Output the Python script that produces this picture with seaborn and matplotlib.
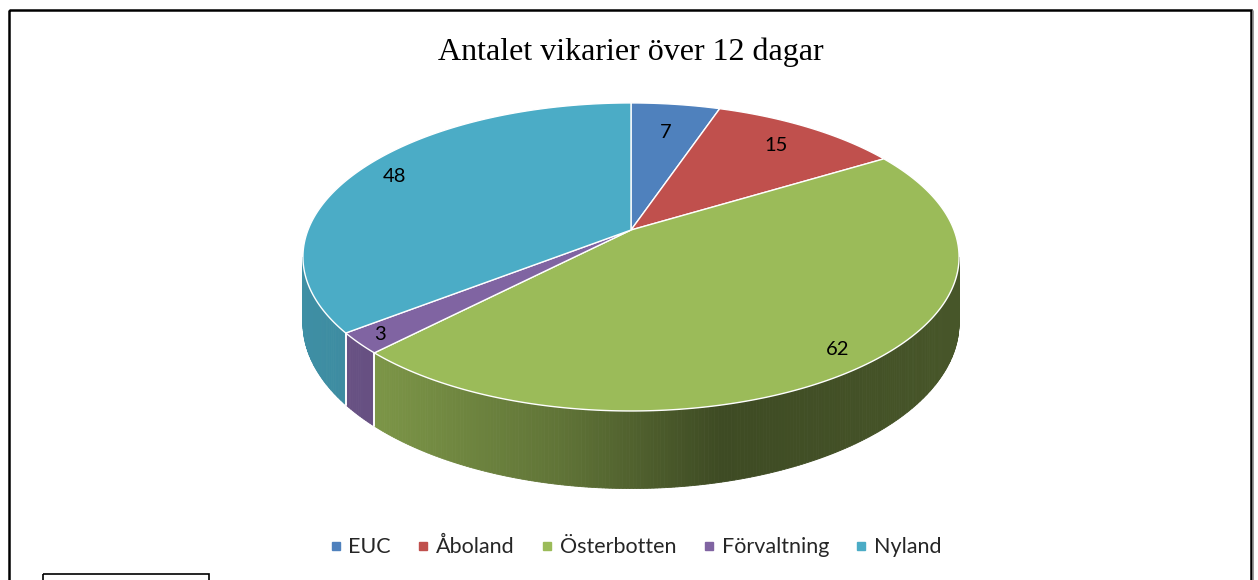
import numpy as np
import seaborn as sns
import matplotlib.pyplot as plt
from matplotlib.patches import Polygon, Rectangle
from matplotlib.lines import Line2D

# data
regions = ["EUC", "Åboland", "Österbotten", "Förvaltning", "Nyland"]
counts = [7, 15, 62, 3, 48]
title = "Antalet vikarier över 12 dagar"

sns.set_theme(style="white")
plt.rcParams['font.family'] = ['Lato', 'DejaVu Sans']
colors = sns.color_palette(["#4F81BD", "#C0504D", "#9BBB59", "#8064A2", "#4BACC6"])

# projection of the tilted disc (pixel space)
CX, CY = 631, 230
A, B, K = 323, 149.3, 0.175
H = 64
label_r = [0.75, 0.8, 0.9, 0.93, 0.87]


def proj(r, theta, drop=0.0):
    th = np.radians(theta)
    u = r * np.sin(th)
    v = r * np.cos(th)
    w = 1 + K * v
    return CX + A * u / w, CY - B * v / w + drop / w


def wall_shade(x):
    return np.interp(x, [303, 375, 560, 720, 960], [0.83, 0.80, 0.62, 0.40, 0.46])


fig = plt.figure(figsize=(12.58, 5.8), dpi=100)
ax = fig.add_axes([0, 0, 1, 1])
ax.set_xlim(0, 1258)
ax.set_ylim(580, 0)
ax.axis("off")

total = sum(counts)
edges = np.concatenate([[0], np.cumsum(counts)]) / total * 360
vis0 = np.degrees(np.arccos(-K))
vis1 = 360 - vis0

# side walls
for i, c in enumerate(colors):
    a0, a1 = max(edges[i], vis0), min(edges[i + 1], vis1)
    if a1 <= a0:
        continue
    ts = np.linspace(a0, a1, max(int((a1 - a0) * 2), 2))
    for t0, t1 in zip(ts[:-1], ts[1:]):
        x0, y0 = proj(1, t0)
        x1, y1 = proj(1, t1)
        _, b0 = proj(1, t0, H)
        _, b1 = proj(1, t1, H)
        f = wall_shade((x0 + x1) / 2)
        col = tuple(np.array(c) * f)
        ax.add_patch(Polygon([(x0, y0), (x1, y1), (x1, b1), (x0, b0)],
                             closed=True, facecolor=col, edgecolor=col, lw=0.6))
    for t in (a0, a1):
        if vis0 < t < vis1:
            x0, y0 = proj(1, t)
            _, b0 = proj(1, t, H)
            ax.plot([x0, x0], [y0, b0], color="white", lw=1.2)

# top face
for i, c in enumerate(colors):
    ts = np.linspace(edges[i], edges[i + 1], max(int(edges[i + 1] - edges[i]) * 2, 3))
    xs, ys = proj(1, ts)
    pts = [(CX, CY)] + list(zip(xs, ys))
    ax.add_patch(Polygon(pts, closed=True, facecolor=c, edgecolor="white", lw=1.0))

# data labels
for i, n in enumerate(counts):
    mid = (edges[i] + edges[i + 1]) / 2
    x, y = proj(label_r[i], mid)
    ax.text(x, y, str(n), ha="center", va="center", fontsize=14.5, color="black")

ax.text(631, 52, title, ha="center", va="center", fontsize=23,
        family="Liberation Serif", color="black")

handles = [Line2D([], [], marker="s", ls="", color=c, markersize=6) for c in colors]
fig.legend(handles, regions, loc="center", bbox_to_anchor=(636 / 1258, 1 - 547 / 580),
           ncol=5, frameon=False, fontsize=15.5, handlelength=0.5,
           handletextpad=0.35, columnspacing=1.25)

# chart frame and the small box at the bottom left
ax.add_patch(Rectangle((8.5, 9.5), 1242, 600, fill=False, edgecolor="black", lw=1.8))
ax.plot([1253, 1253], [11, 580], color="#888888", lw=1.2)
ax.add_patch(Rectangle((42.5, 574), 166, 30, fill=False, edgecolor="black", lw=1.2))

fig.savefig("out.png", dpi=100, facecolor="white")
